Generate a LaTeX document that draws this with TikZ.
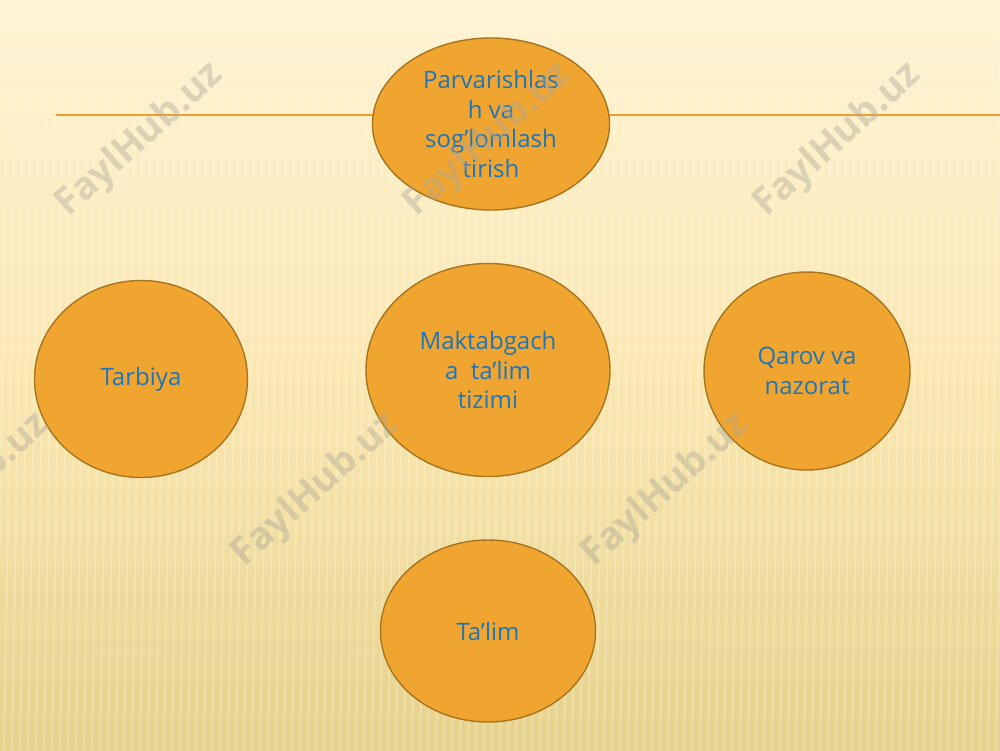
\documentclass[tikz,border=0pt]{standalone}
\usepackage{fontspec}
\setmainfont{Open Sans}
\usetikzlibrary{shapes.geometric,fadings}
\definecolor{bgtop}{RGB}{254,243,210}
\definecolor{bgmid}{RGB}{250,232,178}
\definecolor{bgbot}{RGB}{230,210,140}
\definecolor{fillor}{RGB}{240,165,48}
\definecolor{edgebr}{RGB}{168,116,30}
\definecolor{txtblue}{RGB}{30,117,185}
\definecolor{lineor}{RGB}{240,160,48}
\definecolor{wmark}{RGB}{170,165,150}
\tikzset{
  bubble/.style={ellipse, draw=edgebr, line width=1.4pt, fill=fillor,
    inner sep=0pt, text=txtblue, align=center,
    font=\fontsize{24}{29.5}\selectfont},
  wm/.style={rotate=42, text=wmark, text opacity=0.4,
    font=\bfseries\fontsize{38}{38}\selectfont},
}
\begin{document}
\begin{tikzpicture}[x=1pt,y=-1pt]
\useasboundingbox (0,0) rectangle (1000,750);
% background
\shade[top color=bgbot, bottom color=bgtop, middle color=bgmid, shading angle=180] (0,0) rectangle (1000,750);
\begin{scope}
\clip (0,0) rectangle (1000,750);
\foreach \i in {0,...,130} {
  \draw[white, opacity=0.22, line width=2.2pt] (\i*8-20,750) -- (\i*8-8,40);
}
\end{scope}
\fill[bgtop, path fading=south] (0,0) rectangle (1000,130);
\fill[bgtop] (0,0) rectangle (1000,35);
% horizontal line
\coordinate (l1) at (56,115);
\coordinate (l2) at (1000,115);
\draw[lineor, line width=1.5pt] (l1) -- (l2);
% bubbles
\node[bubble, minimum width=237pt, minimum height=172pt] (top) at (491,124)
  {Parvarishlas\\h va\\sog’lomlash\\tirish};
\node[bubble, minimum width=213pt, minimum height=197pt] (tar) at (141,379)
  {Tarbiya};
\node[bubble, minimum width=244pt, minimum height=213pt] (mid) at (488,370)
  {Maktabgach\\a\ \ ta’lim\ \ \\tizimi};
\node[bubble, minimum width=206pt, minimum height=198pt] (qar) at (807,371)
  {Qarov va\ \\nazorat};
\node[bubble, minimum width=215pt, minimum height=182pt] (tal) at (488,631)
  {Ta’lim};
% watermarks
\node[wm] (w1) at (140,140) {FaylHub.uz};
\node[wm] (w2) at (488,140) {FaylHub.uz};
\node[wm] (w3) at (838,140) {FaylHub.uz};
\node[wm] (w4) at (316,490) {FaylHub.uz};
\node[wm] (w5) at (666,490) {FaylHub.uz};
\begin{scope}
\clip (0,0) rectangle (1000,750);
\node[wm] (w6) at (-34,490) {FaylHub.uz};
\end{scope}
\end{tikzpicture}
\end{document}
